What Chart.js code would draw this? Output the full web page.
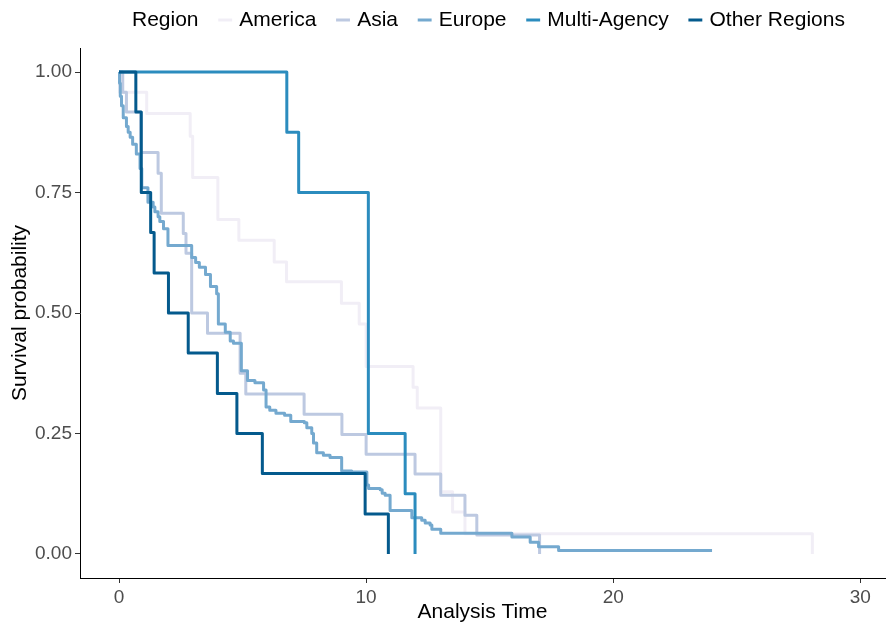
<!DOCTYPE html>
<html lang="en">
  <head>
    <meta charset="UTF-8" />
    <title>Survival by Region</title>
    <style>
      html, body {
        margin: 0;
        padding: 0;
        background: #ffffff;
      }
      #wrap {
        width: 887px;
        height: 627px;
      }
    </style>
    <script src="https://cdn.jsdelivr.net/npm/chart.js"></script>
  </head>
  <body>
    <div id="wrap">
      <canvas id="kmChart"></canvas>
    </div>

    <script>
      // Kaplan-Meier step points: time where the curve drops, value after the drop
      const americaTime = [0, 0.02, 1.12, 2.88, 2.98, 4.0, 4.85, 6.28, 6.78, 9.0, 9.72, 10.0, 11.9, 12.07, 13.02, 13.5, 14.0, 28.06];
      const americaSurv = [1.0, 0.958, 0.914, 0.867, 0.781, 0.694, 0.651, 0.606, 0.565, 0.52, 0.477, 0.389, 0.346, 0.303, 0.129, 0.087, 0.042, 0];

      const asiaTime = [0, 0.15, 0.3, 0.88, 1.58, 1.71, 2.6, 2.71, 2.94, 3.58, 4.9, 5.13, 7.49, 9.02, 10.0, 11.98, 13.02, 14.0, 14.48, 17.02];
      const asiaSurv = [1.0, 0.958, 0.917, 0.833, 0.79, 0.707, 0.665, 0.624, 0.5, 0.458, 0.375, 0.332, 0.29, 0.248, 0.207, 0.166, 0.122, 0.08, 0.039, 0];

      const europeTime = [0, 0.02, 0.05, 0.1, 0.17, 0.3, 0.37, 0.45, 0.55, 0.7, 0.85, 0.92, 1.17, 1.38, 1.45, 1.58, 1.65, 1.8, 1.98, 2.94,
        3.1, 3.25, 3.5, 3.7, 3.95, 4.02, 4.3, 4.5, 4.63, 4.95, 5.2, 5.5, 5.85, 5.95, 6.1, 6.35, 6.7, 6.95, 7.5, 7.6,
        7.8, 7.87, 8.0, 8.27, 8.54, 9.01, 9.42, 10.03, 10.1, 10.57, 10.65, 10.77, 10.97, 11.85, 12.25, 12.39, 12.59, 12.66, 13.02, 15.9,
        16.64, 16.98, 17.79, 24.0];
      const europeSurv = [1.0, 0.977, 0.95, 0.93, 0.905, 0.887, 0.875, 0.865, 0.85, 0.83, 0.8, 0.76, 0.73, 0.72, 0.71, 0.7, 0.69, 0.675, 0.64, 0.615,
        0.605, 0.595, 0.58, 0.555, 0.54, 0.477, 0.46, 0.442, 0.437, 0.38, 0.36, 0.355, 0.34, 0.305, 0.298, 0.292, 0.288, 0.275, 0.272, 0.262,
        0.25, 0.23, 0.21, 0.205, 0.2, 0.172, 0.17, 0.143, 0.136, 0.133, 0.126, 0.122, 0.09, 0.075, 0.07, 0.064, 0.06, 0.051, 0.043, 0.035,
        0.024, 0.015, 0.007, 0.007];

      const multiTime = [0, 6.79, 7.27, 10.09, 11.58, 11.98];
      const multiSurv = [1.0, 0.875, 0.75, 0.25, 0.125, 0];

      const otherTime = [0, 0.68, 0.9, 1.28, 1.42, 2.0, 2.8, 3.98, 4.77, 5.8, 9.96, 10.9];
      const otherSurv = [1.0, 0.917, 0.75, 0.667, 0.583, 0.5, 0.417, 0.333, 0.25, 0.167, 0.083, 0];

      const regionNames = ["America", "Asia", "Europe", "Multi-Agency", "Other Regions"];
      const regionColors = ["#f1eef6", "#bdc9e1", "#74a9cf", "#2b8cbe", "#045a8d"];
      const xTicks = [0, 10, 20, 30];
      const yTicks = [0, 0.25, 0.5, 0.75, 1];

      const FONT = '"Liberation Sans", Arial, Helvetica, sans-serif';

      const series = [
        [americaTime, americaSurv],
        [asiaTime, asiaSurv],
        [europeTime, europeSurv],
        [multiTime, multiSurv],
        [otherTime, otherSurv],
      ];

      const datasets = series.map(([times, surv], i) => ({
        label: regionNames[i],
        data: times.map((t, j) => ({ x: t, y: surv[j] })),
        borderColor: regionColors[i],
        backgroundColor: regionColors[i],
        borderWidth: 3,
        borderJoinStyle: "round",
        borderCapStyle: "butt",
        stepped: "before",
        pointRadius: 0,
        fill: false,
        order: regionNames.length - i, // later regions drawn on top
      }));

      // legend drawn in one row at the top: "Region" then key + label pairs
      const topLegend = {
        id: "topLegend",
        afterDraw(chart) {
          const ctx = chart.ctx;
          ctx.save();
          ctx.font = "21px " + FONT;
          ctx.textBaseline = "middle";
          ctx.textAlign = "left";
          ctx.fillStyle = "#000000";
          const y = 20;
          let x = 132;
          ctx.fillText("Region", x, y);
          x += ctx.measureText("Region").width + 18;
          regionNames.forEach((name, i) => {
            ctx.strokeStyle = regionColors[i];
            ctx.lineWidth = 3;
            ctx.beginPath();
            ctx.moveTo(x + 1.7, y);
            ctx.lineTo(x + 15.6, y);
            ctx.stroke();
            x += 17.3 + 5.5;
            ctx.fillText(name, x, y);
            x += ctx.measureText(name).width + 18;
          });
          ctx.restore();
        },
      };

      const ctx = document.getElementById("kmChart").getContext("2d");
      new Chart(ctx, {
        type: "line",
        data: { datasets: datasets },
        options: {
          responsive: true,
          maintainAspectRatio: false,
          animation: false,
          devicePixelRatio: 1,
          layout: { padding: { top: 48, right: 2, left: 0, bottom: 0 } },
          plugins: {
            legend: { display: false },
            tooltip: { enabled: false },
          },
          scales: {
            x: {
              type: "linear",
              min: -1.58,
              max: 31.0,
              afterBuildTicks: (axis) => {
                axis.ticks = xTicks.map((v) => ({ value: v }));
              },
              afterFit: (axis) => {
                axis.height = 49;
              },
              grid: {
                display: true,
                drawOnChartArea: false,
                drawTicks: true,
                tickLength: 5,
                color: "#333333",
                lineWidth: 1,
              },
              border: { display: true, color: "#000000", width: 1 },
              ticks: {
                color: "#4d4d4d",
                font: { family: FONT, size: 19 },
                padding: 3,
                maxRotation: 0,
                callback: (v) => String(v),
              },
              title: {
                display: true,
                text: "Analysis Time",
                color: "#000000",
                font: { family: FONT, size: 21 },
                padding: { top: 0, bottom: 2 },
              },
            },
            y: {
              type: "linear",
              min: -0.05,
              max: 1.05,
              afterBuildTicks: (axis) => {
                axis.ticks = yTicks.map((v) => ({ value: v }));
              },
              afterFit: (axis) => {
                axis.width = 80;
              },
              grid: {
                display: true,
                drawOnChartArea: false,
                drawTicks: true,
                tickLength: 5,
                color: "#333333",
                lineWidth: 1,
              },
              border: { display: true, color: "#000000", width: 1 },
              ticks: {
                color: "#4d4d4d",
                font: { family: FONT, size: 19 },
                padding: 3,
                callback: (v) => Number(v).toFixed(2),
              },
              title: {
                display: true,
                text: "Survival probability",
                color: "#000000",
                font: { family: FONT, size: 21 },
                padding: { top: 8, bottom: 0 },
              },
            },
          },
        },
        plugins: [topLegend],
      });
    </script>
  </body>
</html>
